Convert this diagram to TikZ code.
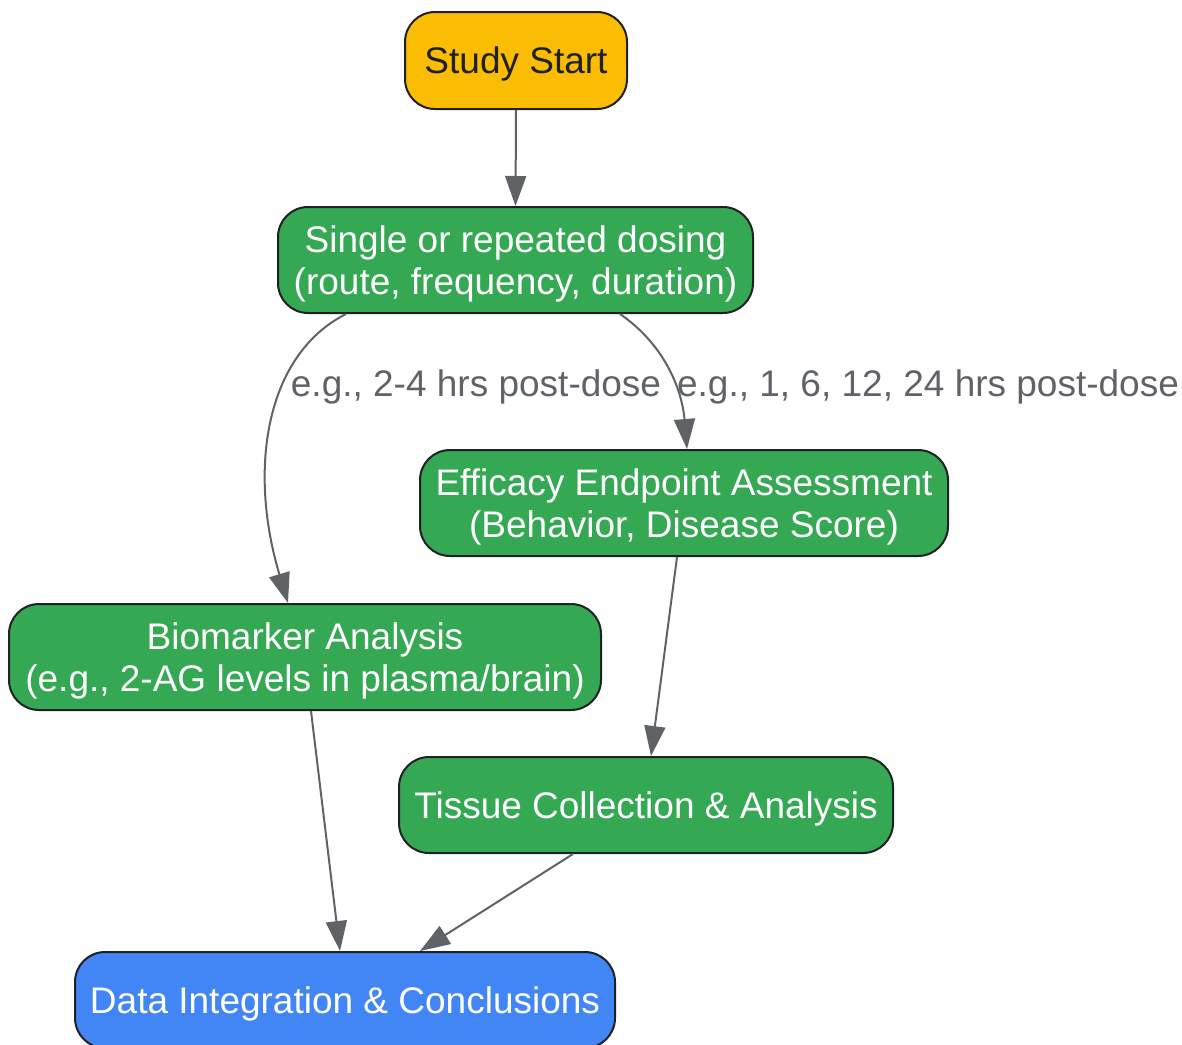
\documentclass[tikz,border=0pt]{standalone}
\usepackage{fontspec}
\setmainfont{Liberation Sans}
\usetikzlibrary{arrows.meta}
\definecolor{cyellow}{HTML}{FBBC04}
\definecolor{cgreen}{HTML}{34A853}
\definecolor{cblue}{HTML}{4285F4}
\definecolor{cedge}{HTML}{5F6368}
\definecolor{cborder}{HTML}{202124}
\tikzset{
  box/.style={draw=cborder, line width=2pt, rounded corners=30pt, align=center,
    inner sep=0pt, text depth=0pt, font=\fontsize{37}{42}\selectfont},
  greenbox/.style={box, fill=cgreen, text=white},
  conn/.style={draw=cedge, line width=2pt, -{Triangle[length=30pt,width=21pt]}},
  elabel/.style={text=cedge, font=\fontsize{37}{42}\selectfont, inner sep=0pt}
}
\begin{document}
\begin{tikzpicture}[x=1pt,y=-1pt]
\useasboundingbox (0,0) rectangle (1182,1044);
\node[box, fill=cyellow, text=cborder, minimum width=222pt, minimum height=97pt] (start) at (516,60.5) {Study Start};
\node[greenbox, minimum width=475pt, minimum height=106pt] (dose) at (515.5,260) {Single or repeated dosing\\(route, frequency, duration)};
\node[greenbox, minimum width=528pt, minimum height=106pt] (eff) at (684,503) {Efficacy Endpoint Assessment\\(Behavior, Disease Score)};
\node[greenbox, minimum width=592pt, minimum height=106pt] (bio) at (305,657) {Biomarker Analysis\\(e.g., 2-AG levels in plasma/brain)};
\node[greenbox, minimum width=494pt, minimum height=96pt] (tis) at (646,805) {Tissue Collection \& Analysis};
\node[box, fill=cblue, text=white, minimum width=540pt, minimum height=96pt] (data) at (345,1000) {Data Integration \& Conclusions};

\draw[conn] (start.south) -- (dose.north);
\draw[conn] ([xshift=-169.5pt]dose.south) .. controls (265,355) and (248,470) .. ([xshift=-17pt]bio.north);
\draw[conn] ([xshift=104.5pt]dose.south) .. controls (665,345) and (682,390) .. ([xshift=3pt]eff.north);
\draw[conn] ([xshift=-7pt]eff.south) -- ([xshift=5pt]tis.north);
\draw[conn] ([xshift=6pt]bio.south) -- ([xshift=-5pt]data.north);
\draw[conn] ([xshift=-73pt]tis.south) -- ([xshift=75pt]data.north);

\node[elabel] (l1) at (476,387) {e.g., 2-4 hrs post-dose};
\node[elabel] (l2) at (928,387) {e.g., 1, 6, 12, 24 hrs post-dose};
\end{tikzpicture}
\end{document}
